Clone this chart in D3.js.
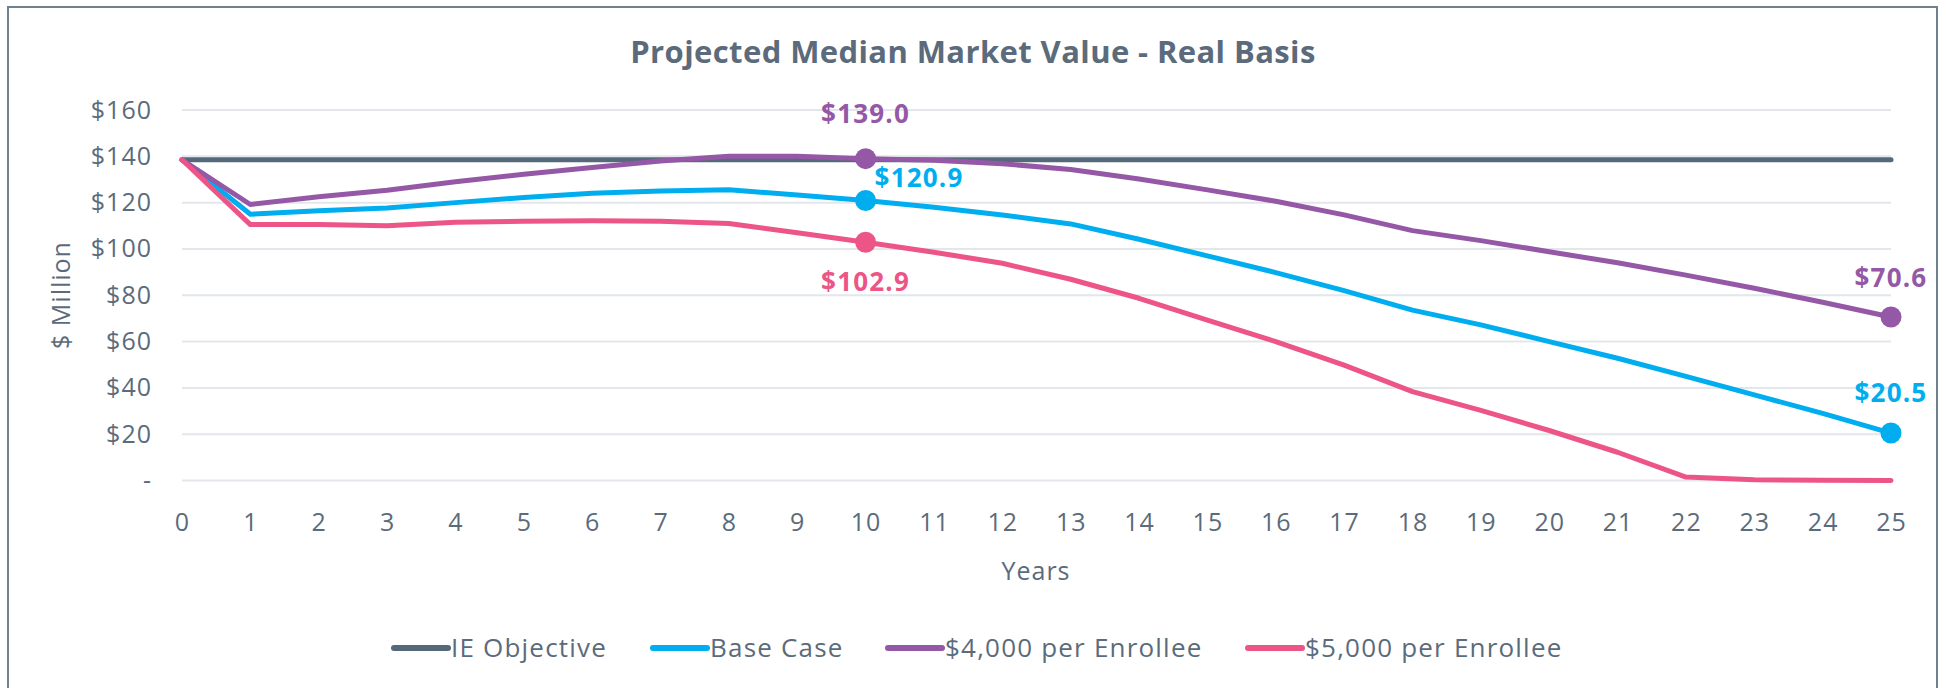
<!DOCTYPE html>
<html>
<head>
<meta charset="utf-8">
<script src="https://cdn.jsdelivr.net/npm/d3@7"></script>
<style>
  body { margin: 0; background: #fff; }
  text { font-family: "Open Sans", Lato, sans-serif; }
</style>
</head>
<body>
<div id="chart"></div>
<script>
// data ($ million, real basis)
var years = d3.range(0, 26);
var ieObjective = [138.5, 138.5, 138.5, 138.5, 138.5, 138.5, 138.5, 138.5, 138.5, 138.5, 138.5, 138.5, 138.5,
    138.5, 138.5, 138.5, 138.5, 138.5, 138.5, 138.5, 138.5, 138.5, 138.5, 138.5, 138.5, 138.5];
var baseCase = [138.5, 115.0, 116.5, 117.7, 120.0, 122.2, 124.0, 125.0, 125.6, 123.3, 120.9, 118.0, 114.7,
    110.8, 104.2, 97.0, 89.8, 82.0, 73.6, 67.2, 60.0, 52.8, 45.0, 37.0, 29.0, 20.5];
var per4000 = [138.5, 119.2, 122.5, 125.3, 129.0, 132.3, 135.2, 138.0, 140.0, 140.0, 139.0, 138.3, 136.8,
    134.3, 130.2, 125.5, 120.6, 114.7, 107.9, 103.6, 98.8, 94.0, 88.7, 83.0, 77.0, 70.6];
var per5000 = [138.5, 110.5, 110.6, 110.0, 111.5, 112.0, 112.2, 112.0, 111.0, 107.0, 102.9, 98.6, 93.8,
    86.9, 78.7, 69.3, 60.0, 49.8, 38.4, 30.3, 21.6, 12.2, 1.5, 0.3, 0.1, 0.0];
var seriesNames = ['IE Objective', 'Base Case', '$4,000 per Enrollee', '$5,000 per Enrollee'];
var seriesColors = ['#56697b', '#00aeef', '#9458a6', '#ec5585'];
var yTicks = [0, 20, 40, 60, 80, 100, 120, 140, 160];
// labelled points: [series index, year index]
var labelled = [[2, 10], [1, 10], [3, 10], [2, 25], [1, 25]];

var W = 1946, H = 688;
var textColor = '#5b6b7b';
var series = [ieObjective, baseCase, per4000, per5000];

var svg = d3.select('#chart').append('svg')
    .attr('width', W)
    .attr('height', H);

// frame
svg.append('path')
    .attr('d', 'M8,' + H + 'V7H1937V' + H)
    .attr('fill', 'none')
    .attr('stroke', '#71808f')
    .attr('stroke-width', 2);

svg.append('text')
    .text('Projected Median Market Value - Real Basis')
    .attr('x', 973)
    .attr('y', 63)
    .attr('text-anchor', 'middle')
    .attr('fill', textColor)
    .attr('font-size', '31px')
    .attr('letter-spacing', '0.4px')
    .attr('font-weight', 'bold');

var xscale = d3.scaleLinear()
    .domain([0, 25])
    .range([182, 1891]);
var yscale = d3.scaleLinear()
    .domain([0, 160])
    .range([480.5, 110]);

// grid
svg.append('g').selectAll('line')
    .data(yTicks)
    .enter()
    .append('line')
    .attr('x1', xscale(0))
    .attr('x2', xscale(25))
    .attr('y1', function (d) { return yscale(d); })
    .attr('y2', function (d) { return yscale(d); })
    .attr('stroke', '#e3e7eb')
    .attr('stroke-width', 2);

var yAxis = d3.axisLeft(yscale)
    .tickValues(yTicks)
    .tickSize(0)
    .tickPadding(30)
    .tickFormat(function (d) { return d === 0 ? '-' : '$' + d; });
var yg = svg.append('g')
    .attr('transform', 'translate(' + xscale(0) + ',0)')
    .call(yAxis);

var xAxis = d3.axisBottom(xscale)
    .tickValues(years)
    .tickSize(0)
    .tickPadding(33)
    .tickFormat(d3.format('d'));
var xg = svg.append('g')
    .attr('transform', 'translate(0,' + yscale(0) + ')')
    .call(xAxis);

[yg, xg].forEach(function (g) {
    g.select('.domain').remove();
    g.selectAll('text')
        .attr('fill', textColor)
        .attr('font-size', '25px')
        .attr('letter-spacing', '1px')
        .attr('font-family', '"Open Sans", sans-serif');
});

svg.append('text')
    .text('Years')
    .attr('x', 1036)
    .attr('y', 580)
    .attr('text-anchor', 'middle')
    .attr('fill', textColor)
    .attr('letter-spacing', '1px')
    .attr('font-size', '25px');

svg.append('text')
    .text('$ Million')
    .attr('transform', 'translate(70,295) rotate(-90)')
    .attr('text-anchor', 'middle')
    .attr('fill', textColor)
    .attr('letter-spacing', '1px')
    .attr('font-size', '25px');

var line = d3.line()
    .x(function (d, i) { return xscale(years[i]); })
    .y(function (d) { return yscale(d); });

svg.append('g').selectAll('path')
    .data(series)
    .enter()
    .append('path')
    .attr('d', function (d) { return line(d); })
    .attr('fill', 'none')
    .attr('stroke', function (d, i) { return seriesColors[i]; })
    .attr('stroke-width', 5)
    .attr('stroke-linejoin', 'round')
    .attr('stroke-linecap', 'round');

// markers and value labels
var labelOffset = {
    '2-10': [0, -36, 'middle'],
    '1-10': [9, -14, 'start'],
    '3-10': [0, 49, 'middle'],
    '2-25': [0, -30, 'middle'],
    '1-25': [0, -31, 'middle']
};
var mg = svg.append('g');
labelled.forEach(function (p) {
    var s = p[0], k = p[1];
    var v = series[s][k];
    var cx = xscale(years[k]), cy = yscale(v);
    mg.append('circle')
        .attr('cx', cx)
        .attr('cy', cy)
        .attr('r', 10.5)
        .attr('fill', seriesColors[s]);
    var o = labelOffset[s + '-' + k];
    mg.append('text')
        .text('$' + v.toFixed(1))
        .attr('x', cx + o[0])
        .attr('y', cy + o[1])
        .attr('text-anchor', o[2])
        .attr('fill', seriesColors[s])
        .attr('font-size', '26px')
        .attr('letter-spacing', '1.2px')
        .attr('font-weight', 'bold');
});

// legend
var legendX = [394, 653, 888, 1248];
var lg = svg.append('g');
seriesNames.forEach(function (name, i) {
    lg.append('line')
        .attr('x1', legendX[i])
        .attr('x2', legendX[i] + 54)
        .attr('y1', 648)
        .attr('y2', 648)
        .attr('stroke', seriesColors[i])
        .attr('stroke-width', 6)
        .attr('stroke-linecap', 'round');
    lg.append('text')
        .text(name)
        .attr('x', legendX[i] + 57)
        .attr('y', 657)
        .attr('fill', textColor)
        .attr('letter-spacing', '1.2px')
        .attr('font-size', '26px');
});
</script>
</body>
</html>
